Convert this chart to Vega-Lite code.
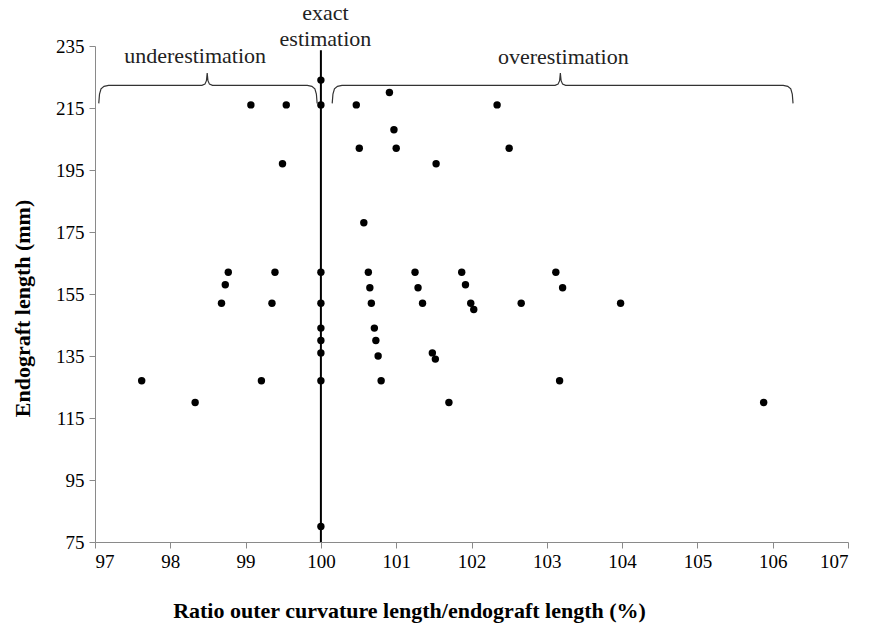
{
  "$schema": "https://vega.github.io/schema/vega-lite/v6.json",
  "width": 753,
  "height": 496,
  "autosize": {"type": "none"},
  "padding": {"left": 95, "top": 46, "right": 21, "bottom": 94},
  "background": "white",
  "config": {
    "view": {"stroke": null},
    "font": "Liberation Serif",
    "axis": {"grid": false, "domainColor": "#8a8a8a", "tickColor": "#8a8a8a", "labelColor": "black", "titleColor": "black", "labelFont": "Liberation Serif", "titleFont": "Liberation Serif", "labelFontSize": 19, "titleFontSize": 22, "titleFontWeight": "bold", "tickSize": 6}
  },
  "datasets": {
    "pts": [
      {"ratio": 99.07, "len": 216}, {"ratio": 99.54, "len": 216}, {"ratio": 100, "len": 216}, {"ratio": 100, "len": 224},
      {"ratio": 99.49, "len": 197}, {"ratio": 100.47, "len": 216}, {"ratio": 100.51, "len": 202}, {"ratio": 100.57, "len": 178},
      {"ratio": 100.91, "len": 220}, {"ratio": 100.97, "len": 208}, {"ratio": 101.0, "len": 202}, {"ratio": 101.53, "len": 197},
      {"ratio": 102.34, "len": 216}, {"ratio": 102.5, "len": 202},
      {"ratio": 98.77, "len": 162}, {"ratio": 98.73, "len": 158}, {"ratio": 98.68, "len": 152}, {"ratio": 99.39, "len": 162},
      {"ratio": 99.35, "len": 152}, {"ratio": 100, "len": 162}, {"ratio": 100, "len": 152}, {"ratio": 100, "len": 144},
      {"ratio": 100, "len": 140}, {"ratio": 100, "len": 136}, {"ratio": 100, "len": 127}, {"ratio": 97.62, "len": 127},
      {"ratio": 99.21, "len": 127}, {"ratio": 98.33, "len": 120},
      {"ratio": 100.63, "len": 162}, {"ratio": 100.65, "len": 157}, {"ratio": 100.67, "len": 152}, {"ratio": 100.71, "len": 144},
      {"ratio": 100.73, "len": 140}, {"ratio": 100.76, "len": 135}, {"ratio": 100.8, "len": 127},
      {"ratio": 101.25, "len": 162}, {"ratio": 101.29, "len": 157}, {"ratio": 101.35, "len": 152}, {"ratio": 101.48, "len": 136},
      {"ratio": 101.52, "len": 134}, {"ratio": 101.7, "len": 120}, {"ratio": 101.87, "len": 162}, {"ratio": 101.92, "len": 158},
      {"ratio": 101.99, "len": 152}, {"ratio": 102.03, "len": 150}, {"ratio": 102.66, "len": 152}, {"ratio": 103.12, "len": 162},
      {"ratio": 103.21, "len": 157}, {"ratio": 103.17, "len": 127}, {"ratio": 103.98, "len": 152}, {"ratio": 105.88, "len": 120},
      {"ratio": 100, "len": 80}
    ],
    "braces": [
      {"g": "under", "o": 1, "x": 97.05, "y": 216.5}, {"g": "under", "o": 2, "x": 97.06, "y": 219.5}, {"g": "under", "o": 3, "x": 97.08, "y": 221.2},
      {"g": "under", "o": 4, "x": 97.12, "y": 222.0}, {"g": "under", "o": 5, "x": 97.18, "y": 222.3}, {"g": "under", "o": 6, "x": 98.42, "y": 222.3},
      {"g": "under", "o": 7, "x": 98.46, "y": 222.7}, {"g": "under", "o": 8, "x": 98.48, "y": 223.8}, {"g": "under", "o": 9, "x": 98.49, "y": 226.3},
      {"g": "under", "o": 10, "x": 98.5, "y": 223.8}, {"g": "under", "o": 11, "x": 98.52, "y": 222.7}, {"g": "under", "o": 12, "x": 98.56, "y": 222.3},
      {"g": "under", "o": 13, "x": 99.82, "y": 222.3}, {"g": "under", "o": 14, "x": 99.88, "y": 222.0}, {"g": "under", "o": 15, "x": 99.92, "y": 221.2},
      {"g": "under", "o": 16, "x": 99.94, "y": 219.5}, {"g": "under", "o": 17, "x": 99.95, "y": 216.5},
      {"g": "over", "o": 1, "x": 100.15, "y": 216.5}, {"g": "over", "o": 2, "x": 100.16, "y": 219.5}, {"g": "over", "o": 3, "x": 100.18, "y": 221.2},
      {"g": "over", "o": 4, "x": 100.22, "y": 222.0}, {"g": "over", "o": 5, "x": 100.28, "y": 222.3}, {"g": "over", "o": 6, "x": 103.11, "y": 222.3},
      {"g": "over", "o": 7, "x": 103.15, "y": 222.7}, {"g": "over", "o": 8, "x": 103.17, "y": 223.8}, {"g": "over", "o": 9, "x": 103.18, "y": 226.3},
      {"g": "over", "o": 10, "x": 103.19, "y": 223.8}, {"g": "over", "o": 11, "x": 103.21, "y": 222.7}, {"g": "over", "o": 12, "x": 103.25, "y": 222.3},
      {"g": "over", "o": 13, "x": 106.14, "y": 222.3}, {"g": "over", "o": 14, "x": 106.2, "y": 222.0}, {"g": "over", "o": 15, "x": 106.24, "y": 221.2},
      {"g": "over", "o": 16, "x": 106.26, "y": 219.5}, {"g": "over", "o": 17, "x": 106.27, "y": 216.5}
    ],
    "labels": [
      {"t": "exact", "x": 100.06, "y": 245.5},
      {"t": "estimation", "x": 100.06, "y": 237.2},
      {"t": "underestimation", "x": 98.33, "y": 231.7},
      {"t": "overestimation", "x": 103.22, "y": 231.5}
    ]
  },
  "layer": [
    {
      "data": {"name": "braces"},
      "mark": {"type": "line", "color": "#333333", "strokeWidth": 1.2, "clip": false},
      "encoding": {
        "x": {"field": "x", "type": "quantitative", "scale": {"domain": [97, 107]}},
        "y": {"field": "y", "type": "quantitative", "scale": {"domain": [75, 235]}},
        "detail": {"field": "g"},
        "order": {"field": "o"}
      }
    },
    {
      "data": {"values": [{}]},
      "mark": {"type": "rule", "color": "black", "strokeWidth": 2, "clip": false},
      "encoding": {
        "x": {"datum": 100, "type": "quantitative"},
        "y": {"datum": 75, "type": "quantitative"},
        "y2": {"datum": 233.6}
      }
    },
    {
      "data": {"name": "pts"},
      "mark": {"type": "point", "filled": true, "color": "black", "opacity": 1, "size": 55},
      "encoding": {
        "x": {"field": "ratio", "type": "quantitative", "scale": {"domain": [97, 107], "nice": false, "zero": false},
          "axis": {"values": [97, 98, 99, 100, 101, 102, 103, 104, 105, 106, 107], "format": "d", "title": "Ratio outer curvature length/endograft length (%)", "labelPadding": 4, "titleX": 314, "titleY": 68, "titleBaseline": "middle", "titleAlign": "center"}},
        "y": {"field": "len", "type": "quantitative", "scale": {"domain": [75, 235], "nice": false, "zero": false},
          "axis": {"values": [75, 95, 115, 135, 155, 175, 195, 215, 235], "format": "d", "title": "Endograft length (mm)", "labelPadding": 5, "titleX": -73, "titleY": 262, "titleAngle": -90, "titleBaseline": "middle", "titleAlign": "center"}}
      }
    },
    {
      "data": {"name": "labels"},
      "mark": {"type": "text", "font": "Liberation Serif", "fontSize": 22, "color": "#222222", "align": "center", "baseline": "middle", "clip": false},
      "encoding": {
        "x": {"field": "x", "type": "quantitative"},
        "y": {"field": "y", "type": "quantitative"},
        "text": {"field": "t"}
      }
    }
  ]
}
